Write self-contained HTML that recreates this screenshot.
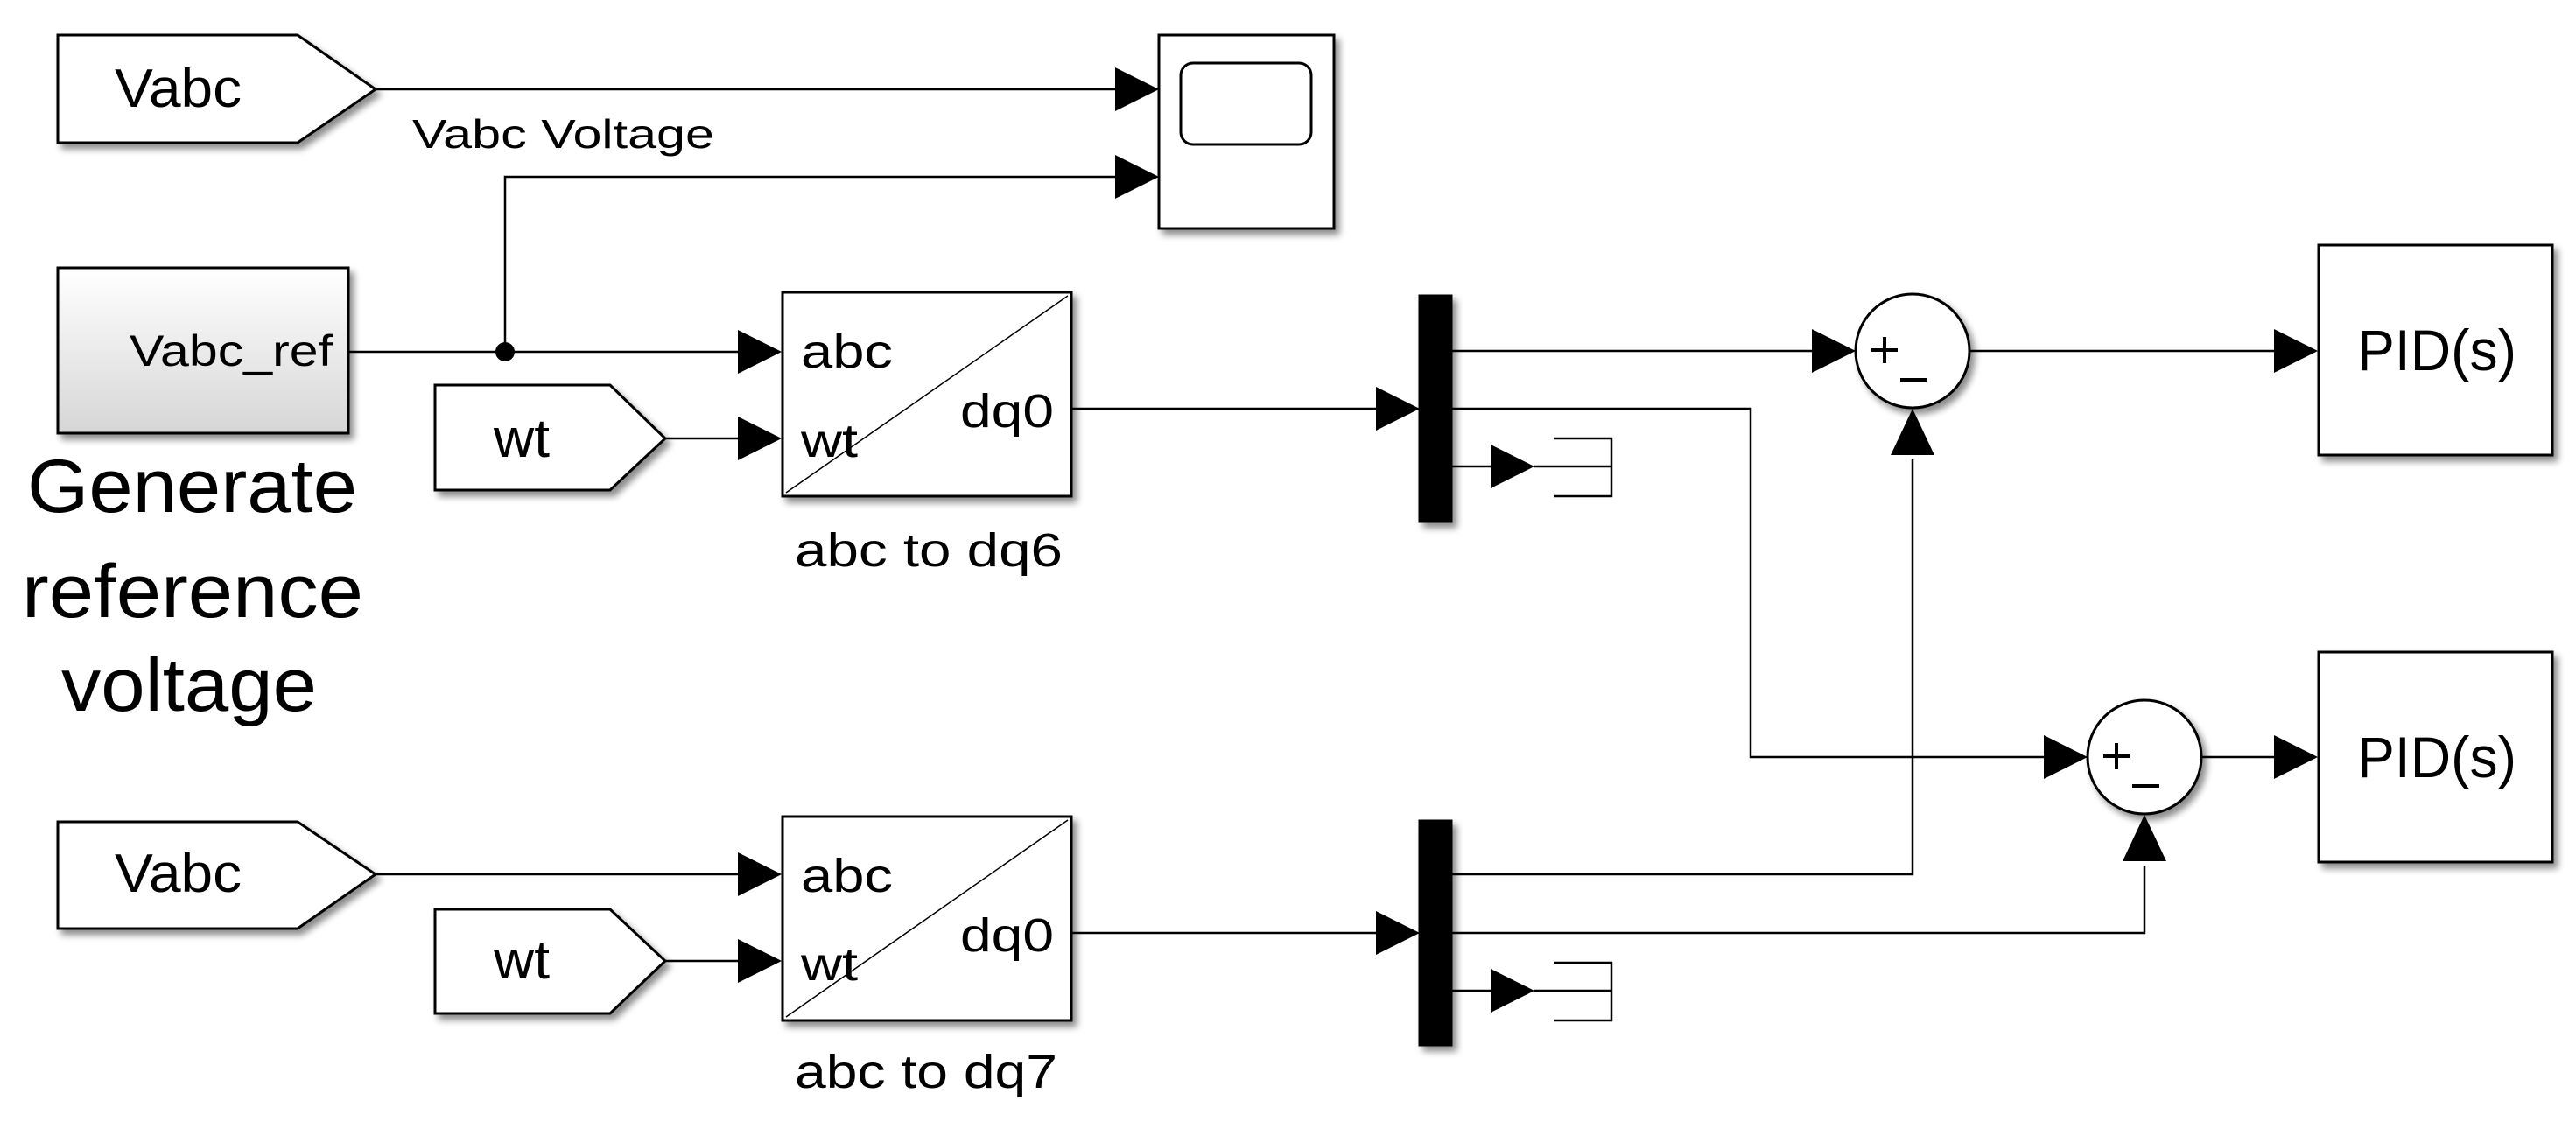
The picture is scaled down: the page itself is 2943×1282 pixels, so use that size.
<!DOCTYPE html>
<html><head><meta charset="utf-8"><style>
html,body{margin:0;padding:0;background:#fff;}
svg{display:block;}
text{font-family:"Liberation Sans",Arial,sans-serif;fill:#000;}
</style></head><body>
<svg width="2943" height="1282" viewBox="0 0 2943 1282" xmlns="http://www.w3.org/2000/svg">
<defs>
<filter id="sh" x="-10%" y="-10%" width="130%" height="130%">
<feGaussianBlur in="SourceAlpha" stdDeviation="4"/>
<feOffset dx="5" dy="6" result="b"/>
<feComponentTransfer><feFuncA type="linear" slope="0.45"/></feComponentTransfer>
<feMerge><feMergeNode/><feMergeNode in="SourceGraphic"/></feMerge>
</filter>
<linearGradient id="gr" x1="0" y1="0" x2="0" y2="1">
<stop offset="0" stop-color="#ffffff"/><stop offset="1" stop-color="#d6d6d6"/>
</linearGradient>
</defs>

<g fill="none" stroke="#000" stroke-width="2.5">
<!-- top Vabc to scope -->
<line x1="429" y1="102" x2="1280" y2="102"/>
<!-- Vabc_ref lines -->
<line x1="398" y1="402" x2="850" y2="402"/>
<polyline points="577,402 577,202 1280,202"/>
<line x1="760" y1="501" x2="850" y2="501"/>
<line x1="1224" y1="467" x2="1580" y2="467"/>
<!-- bottom -->
<line x1="429" y1="999" x2="850" y2="999"/>
<line x1="760" y1="1098" x2="850" y2="1098"/>
<line x1="1224" y1="1066" x2="1580" y2="1066"/>
<!-- mux1 outputs -->
<line x1="1658" y1="401" x2="2075" y2="401"/>
<polyline points="1658,467 2000,467 2000,865 2340,865"/>
<line x1="1658" y1="533" x2="1710" y2="533"/>
<line x1="1753" y1="533" x2="1841" y2="533"/>
<polyline points="1775,501 1841,501 1841,567 1775,567"/>
<!-- mux2 outputs -->
<polyline points="1658,999 2185,999 2185,525"/>
<polyline points="1658,1066 2450,1066 2450,990"/>
<line x1="1658" y1="1132" x2="1710" y2="1132"/>
<line x1="1753" y1="1132" x2="1841" y2="1132"/>
<polyline points="1775,1100 1841,1100 1841,1166 1775,1166"/>
<!-- sums to PID -->
<line x1="2250" y1="401" x2="2605" y2="401"/>
<line x1="2515" y1="865" x2="2605" y2="865"/>
</g>
<circle cx="577" cy="402" r="11" fill="#000"/>

<!-- arrows -->
<g fill="#000">
<polygon points="1274,77 1324,102 1274,127"/>
<polygon points="1274,177 1324,202 1274,227"/>
<polygon points="843,377 893,402 843,427"/>
<polygon points="843,476 893,501 843,526"/>
<polygon points="843,974 893,999 843,1024"/>
<polygon points="843,1073 893,1098 843,1123"/>
<polygon points="1572,442 1622,467 1572,492"/>
<polygon points="1572,1041 1622,1066 1572,1091"/>
<polygon points="1703,508 1753,533 1703,558"/>
<polygon points="1703,1107 1753,1132 1703,1157"/>
<polygon points="2070,376 2120,401 2070,426"/>
<polygon points="2160,520 2185,467 2210,520"/>
<polygon points="2335,840 2385,865 2335,890"/>
<polygon points="2425,984 2450,931 2475,984"/>
<polygon points="2598,376 2648,401 2598,426"/>
<polygon points="2598,840 2648,865 2598,890"/>
</g>

<g filter="url(#sh)" stroke="#000" stroke-width="3" fill="#fff">
<!-- gotos -->
<polygon points="66,40 340,40 429,102 340,163 66,163"/>
<polygon points="497,440 697,440 760,501 697,560 497,560"/>
<polygon points="66,939 340,939 429,999 340,1061 66,1061"/>
<polygon points="497,1039 697,1039 760,1098 697,1158 497,1158"/>
<!-- scope -->
<rect x="1324" y="40" width="200" height="221"/>
<!-- vabc_ref -->
<rect x="66" y="306" width="332" height="189" fill="url(#gr)"/>
<!-- abc blocks -->
<rect x="894" y="334" width="330" height="233"/>
<rect x="894" y="933" width="330" height="233"/>
<!-- mux -->
<rect x="1622" y="338" width="36" height="258" fill="#000"/>
<rect x="1622" y="938" width="36" height="256" fill="#000"/>
<!-- sums -->
<circle cx="2185" cy="401" r="65"/>
<circle cx="2450" cy="865" r="65"/>
<!-- PID -->
<rect x="2649" y="280" width="267" height="240"/>
<rect x="2649" y="745" width="267" height="240"/>
</g>
<rect x="1349" y="72" width="149" height="93" rx="14" ry="14" fill="none" stroke="#000" stroke-width="3"/>
<line x1="898" y1="563" x2="1220" y2="338" stroke="#000" stroke-width="1.5"/>
<line x1="898" y1="1162" x2="1220" y2="937" stroke="#000" stroke-width="1.5"/>

<!-- sum signs -->
<g stroke="#000" stroke-width="4">
<line x1="2138" y1="400" x2="2168" y2="400"/><line x1="2153" y1="385" x2="2153" y2="415"/>
<line x1="2171" y1="434" x2="2202" y2="434"/>
<line x1="2403" y1="864" x2="2433" y2="864"/><line x1="2418" y1="849" x2="2418" y2="879"/>
<line x1="2436" y1="898" x2="2467" y2="898"/>
</g>

<!-- texts -->
<g font-size="62">
<text x="131" y="122" textLength="145" lengthAdjust="spacingAndGlyphs">Vabc</text>
<text x="131" y="1019" textLength="145" lengthAdjust="spacingAndGlyphs">Vabc</text>
<text x="564" y="522" textLength="64" lengthAdjust="spacingAndGlyphs">wt</text>
<text x="564" y="1118" textLength="64" lengthAdjust="spacingAndGlyphs">wt</text>
</g>
<text x="471" y="169" font-size="46" textLength="345" lengthAdjust="spacingAndGlyphs">Vabc Voltage</text>
<text x="148" y="418" font-size="50" textLength="232" lengthAdjust="spacingAndGlyphs">Vabc_ref</text>
<g font-size="54">
<text x="915" y="420" textLength="105" lengthAdjust="spacingAndGlyphs">abc</text>
<text x="1097" y="488" textLength="107" lengthAdjust="spacingAndGlyphs">dq0</text>
<text x="915" y="522" textLength="65" lengthAdjust="spacingAndGlyphs">wt</text>
<text x="915" y="1019" textLength="105" lengthAdjust="spacingAndGlyphs">abc</text>
<text x="1097" y="1087" textLength="107" lengthAdjust="spacingAndGlyphs">dq0</text>
<text x="915" y="1120" textLength="65" lengthAdjust="spacingAndGlyphs">wt</text>
<text x="908" y="647" textLength="306" lengthAdjust="spacingAndGlyphs">abc to dq6</text>
<text x="908" y="1243" textLength="300" lengthAdjust="spacingAndGlyphs">abc to dq7</text>
</g>
<g font-size="66">
<text x="2693" y="423" textLength="182" lengthAdjust="spacingAndGlyphs">PID(s)</text>
<text x="2693" y="888" textLength="182" lengthAdjust="spacingAndGlyphs">PID(s)</text>
</g>
<g font-size="86">
<text x="31" y="585" textLength="377" lengthAdjust="spacingAndGlyphs">Generate</text>
<text x="25" y="705" textLength="390" lengthAdjust="spacingAndGlyphs">reference</text>
<text x="70" y="812" textLength="292" lengthAdjust="spacingAndGlyphs">voltage</text>
</g>
</svg>
</body></html>
